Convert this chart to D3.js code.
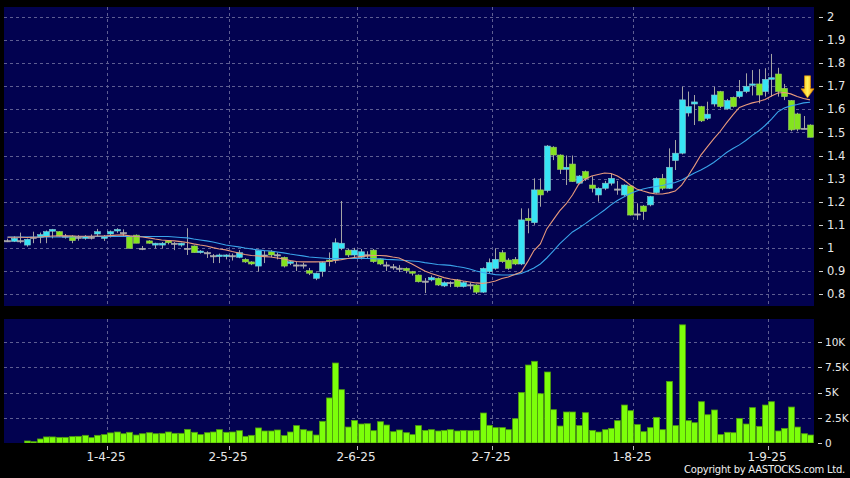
<!DOCTYPE html>
<html><head><meta charset="utf-8">
<script src="https://cdn.jsdelivr.net/npm/d3@7"></script>
<style>html,body{margin:0;padding:0;background:#000;}svg{display:block;}</style>
</head><body>
<svg id="c" width="850" height="478"></svg>
<script>
const dates = [
"2025-03-11","2025-03-12","2025-03-13","2025-03-14","2025-03-17","2025-03-18","2025-03-19","2025-03-20","2025-03-21","2025-03-24","2025-03-25","2025-03-26","2025-03-27","2025-03-28","2025-03-31",
"2025-04-01","2025-04-02","2025-04-03","2025-04-07","2025-04-08","2025-04-09","2025-04-10","2025-04-11","2025-04-14","2025-04-15","2025-04-16","2025-04-17","2025-04-22","2025-04-23","2025-04-24","2025-04-25","2025-04-28","2025-04-29","2025-04-30",
"2025-05-02","2025-05-06","2025-05-07","2025-05-08","2025-05-09","2025-05-12","2025-05-13","2025-05-14","2025-05-15","2025-05-16","2025-05-19","2025-05-20","2025-05-21","2025-05-22","2025-05-23","2025-05-26","2025-05-27","2025-05-28","2025-05-29","2025-05-30",
"2025-06-02","2025-06-03","2025-06-04","2025-06-05","2025-06-06","2025-06-09","2025-06-10","2025-06-11","2025-06-12","2025-06-13","2025-06-16","2025-06-17","2025-06-18","2025-06-19","2025-06-20","2025-06-23","2025-06-24","2025-06-25","2025-06-26","2025-06-27","2025-06-30",
"2025-07-02","2025-07-03","2025-07-04","2025-07-07","2025-07-08","2025-07-09","2025-07-10","2025-07-11","2025-07-14","2025-07-15","2025-07-16","2025-07-17","2025-07-18","2025-07-21","2025-07-22","2025-07-23","2025-07-24","2025-07-25","2025-07-28","2025-07-29","2025-07-30","2025-07-31",
"2025-08-01","2025-08-04","2025-08-05","2025-08-06","2025-08-07","2025-08-08","2025-08-11","2025-08-12","2025-08-13","2025-08-14","2025-08-15","2025-08-18","2025-08-19","2025-08-20","2025-08-21","2025-08-22","2025-08-25","2025-08-26","2025-08-27","2025-08-28","2025-08-29",
"2025-09-01","2025-09-02","2025-09-03","2025-09-04","2025-09-05","2025-09-08","2025-09-09","2025-09-10"];

const open = [
1.031,1.028,1.031,1.012,1.046,1.046,1.048,1.072,1.070,1.051,
1.051,1.046,1.041,1.046,1.060,1.041,1.060,1.073,1.066,1.051,
1.055,0.998,1.030,1.012,1.012,1.030,1.020,1.012,0.998,1.008,
0.979,0.979,0.966,0.962,0.962,0.966,0.959,0.950,0.939,0.921,
0.969,0.983,0.970,0.959,0.933,0.926,0.926,0.901,0.868,0.897,
0.947,0.947,0.998,0.990,0.969,0.959,0.970,0.990,0.952,0.926,
0.918,0.912,0.911,0.897,0.882,0.856,0.861,0.868,0.835,0.850,
0.861,0.832,0.840,0.839,0.808,0.897,0.911,0.979,0.947,0.950,
0.930,1.128,1.109,1.251,1.248,1.436,1.402,1.340,1.363,1.280,
1.330,1.272,1.229,1.258,1.280,1.255,1.229,1.268,1.147,1.181,
1.186,1.239,1.301,1.258,1.378,1.410,1.584,1.623,1.612,1.561,
1.623,1.677,1.602,1.652,1.655,1.677,1.704,1.710,1.677,1.730,
1.753,1.691,1.638,1.580,1.518,1.532];
const high = [
1.040,1.050,1.066,1.040,1.070,1.066,1.075,1.082,1.072,1.060,
1.055,1.055,1.055,1.058,1.082,1.055,1.075,1.085,1.080,1.053,
1.058,1.008,1.033,1.022,1.025,1.032,1.025,1.022,1.085,1.010,
0.990,0.985,0.973,0.975,0.972,0.975,0.990,0.955,0.942,0.992,
0.988,0.990,0.980,0.962,0.945,0.940,0.935,0.913,0.893,0.940,
0.980,1.041,1.203,0.995,1.000,0.995,0.985,0.995,0.955,0.940,
0.930,0.925,0.915,0.900,0.885,0.869,0.880,0.872,0.855,0.855,
0.865,0.855,0.850,0.842,0.915,0.954,0.998,0.990,0.955,0.960,
1.171,1.171,1.301,1.301,1.445,1.440,1.405,1.400,1.400,1.315,
1.335,1.310,1.262,1.290,1.320,1.290,1.275,1.270,1.193,1.185,
1.225,1.305,1.320,1.431,1.467,1.698,1.677,1.662,1.615,1.633,
1.698,1.680,1.645,1.655,1.727,1.756,1.770,1.774,1.778,1.840,
1.780,1.710,1.640,1.585,1.571,1.535];
const low = [
1.025,1.025,1.020,1.005,1.020,1.020,1.020,1.041,1.049,1.040,
1.020,1.031,1.035,1.036,1.050,1.030,1.045,1.065,1.050,0.998,
1.020,0.990,1.018,0.998,0.998,1.015,0.990,1.005,0.969,0.979,
0.975,0.956,0.934,0.934,0.950,0.945,0.955,0.935,0.925,0.897,
0.934,0.960,0.950,0.915,0.925,0.900,0.910,0.882,0.860,0.875,
0.920,0.933,0.990,0.960,0.955,0.950,0.955,0.935,0.925,0.900,
0.905,0.895,0.890,0.880,0.850,0.804,0.855,0.835,0.830,0.830,
0.828,0.828,0.820,0.800,0.805,0.890,0.905,0.935,0.905,0.925,
0.925,1.063,1.100,1.178,1.240,1.380,1.320,1.272,1.285,1.275,
1.290,1.240,1.200,1.250,1.270,1.230,1.225,1.140,1.121,1.121,
1.180,1.235,1.250,1.255,1.337,1.405,1.569,1.532,1.545,1.554,
1.612,1.605,1.598,1.608,1.648,1.670,1.660,1.626,1.655,1.655,
1.655,1.640,1.505,1.505,1.514,1.479];
const close = [
1.031,1.041,1.031,1.037,1.046,1.057,1.070,1.080,1.051,1.051,
1.031,1.046,1.048,1.046,1.070,1.048,1.070,1.080,1.066,0.998,
1.020,0.998,1.020,1.020,1.020,1.022,1.020,1.020,0.998,0.979,
0.986,0.979,0.966,0.969,0.969,0.966,0.979,0.939,0.930,0.988,
0.969,0.969,0.970,0.921,0.940,0.926,0.926,0.890,0.890,0.936,
0.940,1.022,1.020,0.969,0.990,0.983,0.970,0.940,0.930,0.926,
0.918,0.912,0.901,0.890,0.853,0.856,0.871,0.839,0.849,0.850,
0.832,0.849,0.840,0.808,0.911,0.936,0.950,0.940,0.911,0.930,
1.121,1.118,1.251,1.229,1.441,1.402,1.340,1.349,1.287,1.311,
1.301,1.258,1.258,1.280,1.301,1.255,1.272,1.142,1.147,1.157,
1.222,1.301,1.258,1.349,1.410,1.641,1.612,1.632,1.550,1.579,
1.662,1.612,1.638,1.612,1.677,1.700,1.710,1.662,1.730,1.737,
1.677,1.655,1.511,1.514,1.518,1.479];
const volumeK = [
0,0,0,0.2,0.13,0.4,0.6,0.6,0.56,0.56,
0.63,0.66,0.76,0.53,0.76,0.83,1.0,1.09,0.92,1.06,
0.79,0.92,1.02,0.92,0.96,1.09,0.96,0.96,1.35,1.06,
0.83,1.02,1.09,1.32,1.06,1.09,1.22,0.66,0.76,1.49,
1.19,1.19,1.29,0.73,1.09,1.72,1.32,1.19,0.79,2.15,
4.46,7.92,5.28,1.58,2.24,1.88,1.91,1.22,2.11,1.78,
1.12,1.29,1.02,0.83,1.72,1.25,1.32,1.19,1.25,1.32,
1.19,1.25,1.22,1.25,2.97,1.75,1.52,1.52,1.32,2.41,
5.0,7.72,8.09,4.88,7.03,3.3,1.68,3.07,3.07,1.72,
3.0,1.25,1.09,1.32,1.45,2.21,3.76,3.2,1.82,1.12,
1.52,2.54,1.32,6.1,1.72,11.7,2.21,2.01,4.09,2.8,
3.27,0.83,1.06,1.02,2.44,1.88,3.5,1.65,3.76,4.09,
1.19,1.45,3.56,1.58,0.92,0.79];
const maShort = [
1.046,1.046,1.046,1.045,1.046,1.047,1.049,1.051,1.052,1.052,
1.051,1.050,1.050,1.050,1.051,1.051,1.053,1.055,1.056,1.052,
1.049,1.047,1.043,1.038,1.034,1.032,1.030,1.027,1.023,1.017,
1.012,1.008,1.001,0.995,0.991,0.984,0.978,0.971,0.967,0.965,
0.962,0.960,0.956,0.952,0.945,0.941,0.939,0.939,0.939,0.940,
0.941,0.945,0.949,0.954,0.958,0.962,0.965,0.967,0.967,0.965,
0.960,0.956,0.943,0.930,0.915,0.900,0.889,0.880,0.871,0.865,
0.861,0.856,0.852,0.848,0.846,0.850,0.856,0.867,0.874,0.884,
0.895,0.939,0.988,1.017,1.082,1.121,1.160,1.190,1.229,1.277,
1.298,1.311,1.318,1.324,1.322,1.311,1.294,1.272,1.255,1.246,
1.238,1.233,1.233,1.238,1.246,1.272,1.311,1.355,1.402,1.437,
1.472,1.504,1.541,1.576,1.608,1.619,1.628,1.634,1.643,1.658,
1.671,1.673,1.667,1.656,1.647,1.641];
const maLong = [
1.047,1.047,1.047,1.047,1.047,1.047,1.047,1.047,1.047,1.047,
1.047,1.049,1.049,1.049,1.049,1.049,1.049,1.049,1.049,1.049,
1.049,1.049,1.049,1.049,1.049,1.049,1.047,1.045,1.043,1.038,
1.034,1.030,1.025,1.019,1.012,1.008,1.004,0.999,0.995,0.991,
0.988,0.986,0.982,0.978,0.973,0.969,0.965,0.960,0.958,0.956,
0.954,0.954,0.954,0.954,0.954,0.954,0.954,0.953,0.952,0.950,
0.949,0.947,0.945,0.943,0.941,0.936,0.932,0.928,0.926,0.924,
0.919,0.915,0.908,0.900,0.893,0.889,0.884,0.882,0.882,0.884,
0.889,0.900,0.913,0.930,0.956,0.986,1.017,1.043,1.069,1.086,
1.105,1.125,1.144,1.164,1.186,1.205,1.220,1.235,1.246,1.255,
1.261,1.266,1.270,1.277,1.283,1.294,1.309,1.324,1.337,1.352,
1.370,1.391,1.413,1.430,1.446,1.465,1.487,1.506,1.530,1.558,
1.589,1.606,1.615,1.621,1.628,1.631];

const priceTicks = [0.8,0.9,1.0,1.1,1.2,1.3,1.4,1.5,1.6,1.7,1.8,1.9,2.0];
const priceTickLabels = ["0.8","0.9","1","1.1","1.2","1.3","1.4","1.5","1.6","1.7","1.8","1.9","2"];
const volTicks = [0,2.5,5,7.5,10];
const volTickLabels = ["0","2.5K","5K","7.5K","10K"];
const xTickDates = ["2025-04-01","2025-05-02","2025-06-02","2025-07-02","2025-08-01","2025-09-01"];
const xTickLabels = ["1-4-25","2-5-25","2-6-25","2-7-25","1-8-25","1-9-25"];

const W = 850, H = 478;
const L = 4, R = 814, PT = 7, PB = 306, VT = 319, VB = 443;
const NAVY = "#020250", GRID = "#5e5e92";
const FONT = "'DejaVu Sans', Verdana, sans-serif";

const svg = d3.select("#c");
svg.append("rect").attr("width", W).attr("height", H).attr("fill", "#000");
svg.append("rect").attr("x", L).attr("y", PT).attr("width", R - L).attr("height", PB - PT).attr("fill", NAVY);
svg.append("rect").attr("x", L).attr("y", VT).attr("width", R - L).attr("height", VB - VT).attr("fill", NAVY);

const defs = svg.append("defs");
defs.append("clipPath").attr("id", "cp").append("rect").attr("x", L).attr("y", PT).attr("width", R - L).attr("height", PB - PT);
defs.append("clipPath").attr("id", "cv").append("rect").attr("x", L).attr("y", VT).attr("width", R - L).attr("height", VB - VT);
const grad = defs.append("linearGradient").attr("id", "ag").attr("x1", "0").attr("x2", "1").attr("y1", "0").attr("y2", "0");
grad.append("stop").attr("offset", "0").attr("stop-color", "#ffa800");
grad.append("stop").attr("offset", "0.5").attr("stop-color", "#fff25a");
grad.append("stop").attr("offset", "1").attr("stop-color", "#ff9800");

const x = d3.scaleBand().domain(dates).range([4.29, 813.21]).paddingInner(0.15).paddingOuter(0.075);
const cx = d => x(d) + x.bandwidth() / 2;
const y = d3.scaleLinear().domain([0.8, 2.0]).range([294, 17]);
const yv = d3.scaleLinear().domain([0, 10]).range([443, 342]);
const gx = d => Math.round(cx(d) + x.step() / 2) + 0.5;

// gridlines
const grid = svg.append("g").attr("stroke", GRID).attr("stroke-width", 1).attr("stroke-dasharray", "3,3");
grid.selectAll(".hp").data(priceTicks).join("line")
  .attr("x1", L).attr("x2", R).attr("y1", d => Math.round(y(d)) + 0.5).attr("y2", d => Math.round(y(d)) + 0.5);
grid.selectAll(".hv").data(volTicks.filter(v => v > 0)).join("line")
  .attr("x1", L).attr("x2", R).attr("y1", d => Math.round(yv(d)) + 0.5).attr("y2", d => Math.round(yv(d)) + 0.5);
grid.selectAll(".vp").data(xTickDates).join("line")
  .attr("x1", gx).attr("x2", gx).attr("y1", PT).attr("y2", PB);
grid.selectAll(".vv").data(xTickDates).join("line")
  .attr("x1", gx).attr("x2", gx).attr("y1", VT).attr("y2", VB);

// candles
const idx = d3.range(dates.length);
const pg = svg.append("g").attr("clip-path", "url(#cp)");
pg.selectAll(".wick").data(idx).join("line")
  .attr("x1", i => Math.round(cx(dates[i])) + 0.5).attr("x2", i => Math.round(cx(dates[i])) + 0.5)
  .attr("y1", i => y(high[i])).attr("y2", i => y(low[i]))
  .attr("stroke", "#a4a4a4").attr("stroke-width", 1);
const bodyColor = i => close[i] > open[i] ? "#38e4f4" : (close[i] < open[i] ? "#84e41e" : "#b0b0b0");
const edgeColor = i => close[i] > open[i] ? "#86c4cc" : (close[i] < open[i] ? "#9cc46a" : "#b0b0b0");
pg.selectAll(".body").data(idx).join("rect")
  .attr("x", i => Math.round(cx(dates[i])) - 2.5)
  .attr("width", 6)
  .attr("y", i => Math.min(y(open[i]), y(close[i])))
  .attr("height", i => Math.max(1.2, Math.abs(y(open[i]) - y(close[i]))))
  .attr("fill", bodyColor)
  .attr("stroke", edgeColor).attr("stroke-width", 0.6);

// moving averages
const line = d3.line().x((d, i) => cx(dates[i])).y(d => y(d));
pg.append("path").datum(maLong).attr("d", line).attr("fill", "none").attr("stroke", "#3aa4ea").attr("stroke-width", 1.1);
pg.append("path").datum(maShort).attr("d", line).attr("fill", "none").attr("stroke", "#e89a7c").attr("stroke-width", 1.1);

// arrow at last bar
const n = dates.length;
const ax = cx(dates[n - 1]) - 2.5, ay = y(maShort[n - 1]) - 2;
svg.append("path")
  .attr("d", `M${ax - 3},${ay - 22} L${ax + 3},${ay - 22} L${ax + 3},${ay - 9} L${ax + 6.5},${ay - 9} L${ax},${ay} L${ax - 6.5},${ay - 9} L${ax - 3},${ay - 9} Z`)
  .attr("fill", "url(#ag)").attr("stroke", "#d88a00").attr("stroke-width", 0.7);

// volume
const vg = svg.append("g").attr("clip-path", "url(#cv)");
vg.selectAll(".vol").data(idx.filter(i => volumeK[i] > 0)).join("rect")
  .attr("x", i => Math.round(cx(dates[i])) - 2.5)
  .attr("width", 6)
  .attr("y", i => yv(volumeK[i]))
  .attr("height", i => yv(0) - yv(volumeK[i]))
  .attr("fill", "#7cff0a").attr("stroke", "#4e9a10").attr("stroke-width", 0.8);

// right axes
const ax1 = svg.append("g");
ax1.selectAll(".pt").data(priceTicks).join("line")
  .attr("x1", R + 5).attr("x2", R + 9).attr("y1", d => Math.round(y(d)) + 0.5).attr("y2", d => Math.round(y(d)) + 0.5)
  .attr("stroke", "#cfcfcf");
ax1.selectAll(".pl").data(priceTicks).join("text")
  .attr("x", R + 13).attr("y", d => y(d)).attr("dy", "0.36em")
  .attr("fill", "#e8e8e8").attr("font-family", FONT).attr("font-size", "11.5px")
  .text((d, i) => priceTickLabels[i]);
ax1.selectAll(".vt").data(volTicks).join("line")
  .attr("x1", R + 4).attr("x2", R + 8).attr("y1", d => Math.round(yv(d)) + 0.5).attr("y2", d => Math.round(yv(d)) + 0.5)
  .attr("stroke", "#cfcfcf");
ax1.selectAll(".vl").data(volTicks).join("text")
  .attr("x", R + 11).attr("y", d => yv(d)).attr("dy", "0.36em")
  .attr("fill", "#e8e8e8").attr("font-family", FONT).attr("font-size", "10.5px")
  .text((d, i) => volTickLabels[i]);

// bottom axis
const bx = svg.append("g");
bx.selectAll(".bt").data(xTickDates).join("line")
  .attr("x1", gx).attr("x2", gx).attr("y1", 446).attr("y2", 450).attr("stroke", "#bdbdbd");
bx.selectAll(".bl").data(xTickDates).join("text")
  .attr("x", d => gx(d) - 1.5).attr("y", 460.5).attr("text-anchor", "middle")
  .attr("fill", "#e8e8e8").attr("font-family", FONT).attr("font-size", "12px")
  .text((d, i) => xTickLabels[i]);

svg.append("text").attr("x", 845).attr("y", 473).attr("text-anchor", "end")
  .attr("fill", "#f0f0f0").attr("font-family", FONT).attr("font-size", "10px")
  .attr("letter-spacing", "-0.25px")
  .text("Copyright by AASTOCKS.com Ltd.");
</script>
</body></html>
